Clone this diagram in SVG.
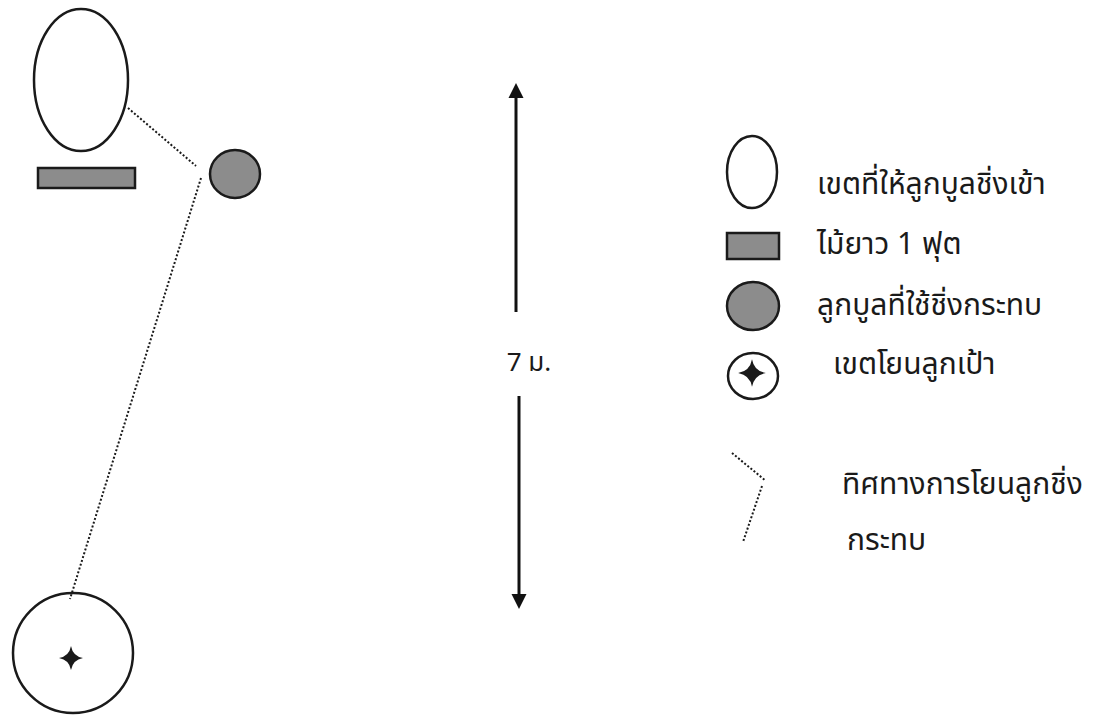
<svg xmlns="http://www.w3.org/2000/svg" width="1093" height="715" viewBox="0 0 1093 715">
<defs>
<style>
.o{fill:#fff;stroke:#1a1a1a;stroke-width:2.5}
.g{fill:#8c8c8c;stroke:#1a1a1a;stroke-width:2.5}
.d{fill:none;stroke:#1a1a1a;stroke-width:2;stroke-dasharray:2 2}
.t{font-family:"Noto Sans Thai","Liberation Sans","DejaVu Sans",sans-serif;font-size:30px;fill:#1a1a1a}
.m{font-size:26px}
.star{fill:#1a1a1a}
.ax{stroke:#111;stroke-width:3;fill:none}
</style>
<marker id="ah" viewBox="0 0 10 10" refX="0" refY="5" markerWidth="5" markerHeight="5.2" markerUnits="strokeWidth" orient="auto">
<path d="M0,0 L10,5 L0,10 Z" fill="#111"/>
</marker>
<path id="st" d="M0,-12 Q1.8,-1.8 12,0 Q1.8,1.8 0,12 Q-1.8,1.8 -12,0 Q-1.8,-1.8 0,-12 Z"/>
</defs>
<rect width="1093" height="715" fill="#fff"/>
<g id="zone-enter"><ellipse class="o" cx="81" cy="80" rx="47" ry="71"/></g>
<g id="stick"><rect class="g" x="38" y="168" width="97" height="20"/></g>
<g id="ball"><ellipse class="g" cx="235" cy="174" rx="25" ry="24"/></g>
<g id="target"><circle class="o" cx="73" cy="653" r="60"/><use href="#st" class="star" x="71" y="658"/></g>
<g id="connectors">
<line class="d" x1="128" y1="108" x2="196" y2="166"/>
<line class="d" x1="201" y1="178" x2="70" y2="599"/>
<line class="ax" x1="516" y1="312" x2="516" y2="98" marker-end="url(#ah)"/>
<line class="ax" x1="519" y1="396" x2="519" y2="594" marker-end="url(#ah)"/>
</g>
<g id="dist-label"><text class="t m" x="529" y="371" text-anchor="middle">7 ม.</text></g>
<g id="legend">
<ellipse class="o" cx="752" cy="172" rx="25" ry="36"/>
<text class="t" x="817" y="194">เขตที่ให้ลูกบูลชิ่งเข้า</text>
<rect class="g" x="727" y="233" width="52" height="26"/>
<text class="t" x="817" y="254">ไม้ยาว 1 ฟุต</text>
<ellipse class="g" cx="753" cy="306" rx="26" ry="24"/>
<text class="t" x="817" y="315">ลูกบูลที่ใช้ชิ่งกระทบ</text>
<ellipse class="o" cx="753" cy="376" rx="25" ry="23"/>
<use href="#st" class="star" x="752" y="373" transform="translate(752 373) scale(1.15) translate(-752 -373)"/>
<text class="t" x="833" y="374">เขตโยนลูกเป้า</text>
<line class="d" x1="732" y1="453" x2="766" y2="481"/>
<line class="d" x1="762" y1="486" x2="743" y2="542"/>
<text class="t" x="842" y="494">ทิศทางการโยนลูกชิ่ง</text>
<text class="t" x="847" y="550">กระทบ</text>
</g>
</svg>
